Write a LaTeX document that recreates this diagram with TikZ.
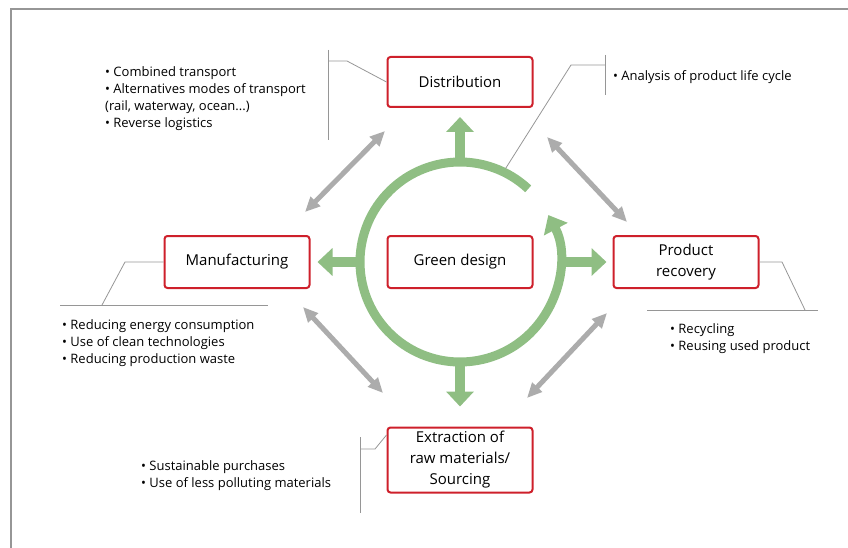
\documentclass[tikz,border=0pt]{standalone}
\usepackage{fontspec}
\setmainfont{Open Sans}
\usepackage{xcolor}
\usepackage{tikz}
\usetikzlibrary{arrows.meta,positioning}
\definecolor{boxred}{RGB}{206,32,43}
\definecolor{ringgreen}{RGB}{143,190,131}
\definecolor{linkgray}{RGB}{172,172,172}
\definecolor{callgray}{RGB}{150,150,150}

\begin{document}
\begin{tikzpicture}[
x=1pt, y=-1pt,
stage/.style={draw=boxred, line width=2pt, rounded corners=3pt, fill=white, align=center, font=\fontsize{15}{21}\selectfont, minimum width=145pt, minimum height=52pt, inner sep=2pt},
notes/.style={align=left, font=\fontsize{13}{17}\selectfont, inner sep=0pt, anchor=north west},
stub/.style={ringgreen, line width=10pt, -{Triangle[width=27pt,length=15pt]}},
link/.style={linkgray, line width=5pt, {Triangle[width=13pt,length=15pt]}-{Triangle[width=13pt,length=15pt]}},
callout/.style={callgray, line width=0.8pt}
]
\useasboundingbox (0,0) rectangle (848,548);
\draw[callgray, line width=1.5pt] (11,548) -- (11,9) -- (848,9);

% stages
\node[stage] (green) at (460,262) {Green design};
\node[stage, minimum height=50pt] (dist) at (460,82) {Distribution};
\node[stage] (manu) at (237,262) {Manufacturing};
\node[stage] (recov) at (686,262) {Product\\recovery};
\node[stage, minimum height=65pt] (extr) at (460,460) {Extraction of\\raw materials/\\Sourcing};

% green cycle
\node[circle, minimum size=208pt, inner sep=0pt] (ring) at (460,262) {};
\draw[ringgreen, line width=9pt, -{Triangle[width=26pt,length=16pt]}]
  ([shift={(-47:100)}]ring.center) arc[start angle=-47, end angle=-388, radius=100];
\draw[stub, shorten >=9pt] (ring.north) -- (dist.south);
\draw[stub, shorten >=7pt] (ring.west) -- (manu.east);
\draw[stub, shorten >=6pt] (ring.east) -- (recov.west);
\draw[stub, shorten >=20pt] (ring.south) -- (extr.north);

% links between stages
\coordinate (ul1) at (305,212); \coordinate (ul2) at (385,131);
\coordinate (ur1) at (547,137); \coordinate (ur2) at (627,222);
\coordinate (ll1) at (303,307); \coordinate (ll2) at (383,393);
\coordinate (lr1) at (527,398); \coordinate (lr2) at (607,313);
\draw[link] (ul1) -- (ul2);
\draw[link] (ur1) -- (ur2);
\draw[link] (ll1) -- (ll2);
\draw[link] (lr1) -- (lr2);

% callouts
\draw[callout] (328,50) -- (328,140);
\draw[callout] (dist.west) -- (347,61) -- (328,61);
\node[notes] (distnotes) at (105,66) {• Combined transport\\
• Alternatives modes of transport\\
(rail, waterway, ocean...)\\
• Reverse logistics};

\draw[callout] (605,55) -- (605,95);
\draw[callout] (605,65) -- (571,65) -- (ring.64);
\node[notes, anchor=west] (cyclenote) at (613,77) {• Analysis of product life cycle};

\draw[callout] (60,305) -- (268,305);
\draw[callout] (manu.west) -- (125,262) -- (102,305);
\node[notes] (manunotes) at (62,319) {• Reducing energy consumption\\
• Use of clean technologies\\
• Reducing production waste};

\draw[callout] (647,310) -- (818,310);
\draw[callout] (recov.east) -- (782,262) -- (805,310);
\node[notes] (recovnotes) at (670,323) {• Recycling\\
• Reusing used product};

\draw[callout] (360,437) -- (360,513);
\draw[callout] ([yshift=25pt]extr.west) -- (375,449) -- (360,449);
\node[notes] (extrnotes) at (141,460) {• Sustainable purchases\\
• Use of less polluting materials};
\end{tikzpicture}
\end{document}
